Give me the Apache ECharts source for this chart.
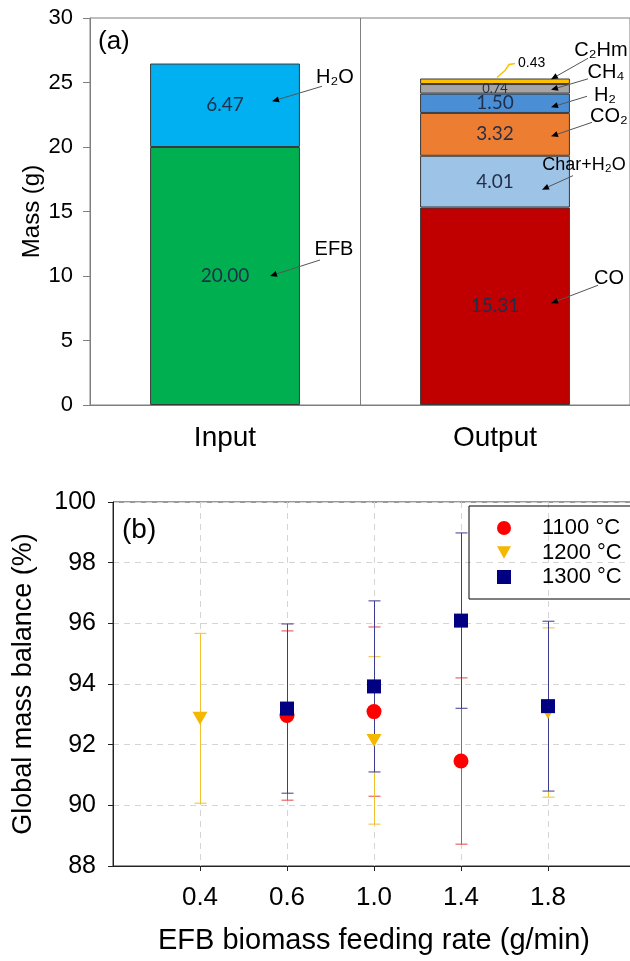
<!DOCTYPE html>
<html>
<head>
<meta charset="utf-8">
<script src="https://cdn.jsdelivr.net/npm/echarts@6/dist/echarts.min.js"></script>
<style>html,body{margin:0;padding:0;background:#fff}#c{width:630px;height:961px}</style>
</head>
<body>
<div id="c"></div>
<script>
// ---------- (a) data ----------
const categoriesA = ['Input', 'Output'];
const inputNames = ['EFB', 'H₂O'];
const inputValues = [20.00, 6.47];
const outputNames = ['CO', 'Char+H₂O', 'CO₂', 'H₂', 'CH₄', 'C₂Hm'];
const outputValues = [15.31, 4.01, 3.32, 1.50, 0.74, 0.43];
const massTicks = [0, 5, 10, 15, 20, 25, 30];

// ---------- (b) data ----------
const feedRates = ['0.4', '0.6', '1.0', '1.4', '1.8'];
const mean1100 = [null, 92.96, 93.09, 91.46, null];
const err1100  = [null, 2.79, 2.79, 2.74, null];
const mean1200 = [92.87, null, 92.14, null, 93.06];
const err1200  = [2.80, null, 2.76, null, 2.79];
const mean1300 = [null, 93.19, 93.92, 96.09, 93.27];
const err1300  = [null, 2.79, 2.82, 2.89, 2.80];
const balanceTicks = [88, 90, 92, 94, 96, 98, 100];

const FONT = '"Liberation Sans", Arial, sans-serif';
const VFONT = 'Lato, "Open Sans", sans-serif';

const colorsIn = { 'EFB': '#00b050', 'H₂O': '#00b0f0' };
const colorsOut = { 'CO': '#c00000', 'Char+H₂O': '#9dc3e6', 'CO₂': '#ed7d31', 'H₂': '#4a8fd6', 'CH₄': '#a5a5a5', 'C₂Hm': '#ffc000' };

const barSeries = [];
inputNames.forEach((n, i) => {
  barSeries.push({
    name: n, type: 'bar', stack: 'a', xAxisIndex: 0, yAxisIndex: 0, barWidth: '55.5%',
    data: [inputValues[i], '-'],
    itemStyle: { color: colorsIn[n], borderColor: '#3a3a3a', borderWidth: 1 },
    label: { show: true, position: 'inside', formatter: p => p.value.toFixed(2), fontFamily: VFONT, fontSize: 19, color: '#1f2f4a' }
  });
});
outputNames.forEach((n, i) => {
  const small = outputValues[i] < 1;
  barSeries.push({
    name: n, type: 'bar', stack: 'a', xAxisIndex: 0, yAxisIndex: 0, barWidth: '55.5%',
    data: ['-', outputValues[i]],
    itemStyle: { color: colorsOut[n], borderColor: '#3a3a3a', borderWidth: 1 },
    label: { show: outputValues[i] > 0.5, position: 'inside', formatter: p => p.value.toFixed(2), fontFamily: VFONT, fontSize: small ? 13 : 19, color: '#1f2f4a' }
  });
});

const triPath = 'path://M0,0L10,0L5,9Z';
function scatterData(means) {
  return feedRates.map((f, i) => means[i] == null ? null : [f, means[i]]).filter(Boolean);
}
function errData(means, errs) {
  return feedRates.map((f, i) => means[i] == null ? null : [f, means[i] - errs[i], means[i] + errs[i]]).filter(Boolean);
}
function errSeries(name, color, means, errs, z) {
  return {
    name: name, type: 'custom', xAxisIndex: 1, yAxisIndex: 1, z: z, silent: true,
    data: errData(means, errs),
    encode: { x: 0, y: [1, 2] },
    renderItem: function (params, api) {
      const x = api.value(0);
      const lo = api.coord([x, api.value(1)]);
      const hi = api.coord([x, api.value(2)]);
      const cx = Math.round(lo[0]) + 0.5;
      const w = 6;
      const st = { stroke: color, lineWidth: 1 };
      return { type: 'group', children: [
        { type: 'line', shape: { x1: cx, y1: lo[1], x2: cx, y2: hi[1] }, style: st },
        { type: 'line', shape: { x1: cx - w, y1: lo[1], x2: cx + w, y2: lo[1] }, style: st },
        { type: 'line', shape: { x1: cx - w, y1: hi[1], x2: cx + w, y2: hi[1] }, style: st }
      ]};
    }
  };
}

const catsB = [''].concat(feedRates).concat(['']);
const notEmpty = (idx, val) => val !== '';

const option = {
  animation: false,
  backgroundColor: '#fff',
  textStyle: { fontFamily: FONT },
  grid: [
    { left: 90, top: 18, right: 0, bottom: 556, show: true, borderColor: '#7f7f7f', borderWidth: 1, outerBoundsMode: 'none', containLabel: false },
    { left: 113, top: 502, width: 522, bottom: 95, show: true, borderColor: '#333', borderWidth: 1, outerBoundsMode: 'none', containLabel: false }
  ],
  xAxis: [
    { gridIndex: 0, type: 'category', data: categoriesA,
      axisLine: { lineStyle: { color: '#7f7f7f' } }, axisTick: { show: false },
      axisLabel: { fontSize: 28, color: '#000', margin: 19, fontFamily: FONT },
      splitLine: { show: true, lineStyle: { color: '#7f7f7f', width: 1 } } },
    { gridIndex: 1, type: 'category', data: catsB, boundaryGap: false,
      name: 'EFB biomass feeding rate (g/min)', nameLocation: 'middle', nameGap: 60, nameMoveOverlap: false,
      nameTextStyle: { fontSize: 29, color: '#000', fontFamily: FONT },
      axisLine: { lineStyle: { color: '#222' } },
      axisTick: { show: true, interval: notEmpty, length: 5, lineStyle: { color: '#222' } },
      axisLabel: { fontSize: 26, color: '#000', margin: 19, interval: 0, fontFamily: FONT },
      splitLine: { show: true, interval: notEmpty, lineStyle: { color: '#d4d4d4', type: [6, 5], width: 1 } } }
  ],
  yAxis: [
    { gridIndex: 0, type: 'value', min: massTicks[0], max: massTicks[massTicks.length - 1], interval: 5,
      name: 'Mass (g)', nameLocation: 'middle', nameGap: 46, nameRotate: 90, nameMoveOverlap: false,
      nameTextStyle: { fontSize: 24, color: '#000', fontFamily: FONT },
      axisLine: { show: true, lineStyle: { color: '#7f7f7f' } },
      axisTick: { show: true, length: 7, lineStyle: { color: '#7f7f7f' } },
      axisLabel: { fontSize: 22, color: '#000', margin: 17, fontFamily: FONT },
      splitLine: { show: false } },
    { gridIndex: 1, type: 'value', min: balanceTicks[0], max: balanceTicks[balanceTicks.length - 1], interval: 2,
      name: 'Global mass balance (%)', nameLocation: 'middle', nameGap: 76, nameRotate: 90, nameMoveOverlap: false,
      nameTextStyle: { fontSize: 27, color: '#000', fontFamily: FONT },
      axisLine: { show: true, lineStyle: { color: '#222' } },
      axisTick: { show: true, length: 5, lineStyle: { color: '#222' } },
      axisLabel: { fontSize: 25, color: '#000', margin: 17, fontFamily: FONT },
      splitLine: { show: true, lineStyle: { color: '#d4d4d4', type: [6, 5], width: 1 } } }
  ],
  legend: {
    orient: 'vertical', left: 469, top: 506, selectedMode: false,
    data: [{ name: '1100 °C', icon: 'circle' }, { name: '1200 °C', icon: triPath }, { name: '1300 °C', icon: 'rect' }],
    itemWidth: 14, itemHeight: 14, itemGap: 2.5,
    borderColor: '#000', borderWidth: 1, borderRadius: 0, padding: [11, 10, 11, 28],
    textStyle: { fontSize: 22, lineHeight: 22, color: '#000', padding: [0, 0, 0, 26], fontFamily: FONT }
  },
  series: barSeries.concat([
    errSeries('e1100', '#e04848', mean1100, err1100, 2),
    errSeries('e1200', '#f0c030', mean1200, err1200, 3),
    errSeries('e1300', '#3b3b8f', mean1300, err1300, 4),
    { name: '1100 °C', type: 'scatter', xAxisIndex: 1, yAxisIndex: 1, z: 5, symbol: 'circle', symbolSize: 15,
      itemStyle: { color: '#ff0000', opacity: 1 }, data: scatterData(mean1100) },
    { name: '1200 °C', type: 'scatter', xAxisIndex: 1, yAxisIndex: 1, z: 6, symbol: triPath, symbolSize: [15, 13],
      itemStyle: { color: '#f5b800', opacity: 1 }, data: scatterData(mean1200) },
    { name: '1300 °C', type: 'scatter', xAxisIndex: 1, yAxisIndex: 1, z: 7, symbol: 'rect', symbolSize: 14,
      itemStyle: { color: '#000080', opacity: 1 }, data: scatterData(mean1300) }
  ])
};

const chart = echarts.init(document.getElementById('c'), null, { renderer: 'canvas' });
chart.setOption(option);

// ---------- annotations for (a), placed through the axes ----------
function px(cat, val) { return chart.convertToPixel({ xAxisIndex: 0, yAxisIndex: 0 }, [cat, val]); }
const graphics = [];
function arrow(tip, end, color) {
  const ang = Math.atan2(tip[1] - end[1], tip[0] - end[0]);
  const L = 7, W = 3;
  const bx = tip[0] - L * Math.cos(ang), by = tip[1] - L * Math.sin(ang);
  graphics.push({ type: 'line', z: 50, shape: { x1: end[0], y1: end[1], x2: bx, y2: by }, style: { stroke: color, lineWidth: 1 } });
  graphics.push({ type: 'polygon', z: 50, shape: { points: [tip,
    [bx + W * Math.sin(ang), by - W * Math.cos(ang)], [bx - W * Math.sin(ang), by + W * Math.cos(ang)]] }, style: { fill: '#000' } });
}
function annotate(cat, base, value, text, o) {
  const c = px(cat, base + value / 2);
  const tip = [c[0] + o.tx, c[1] + (o.ty || 0)];
  arrow(tip, [tip[0] + o.lx, tip[1] + o.ly], '#555');
  graphics.push({ type: 'text', z: 51, style: { text: text, x: tip[0] + o.sx, y: tip[1] + o.sy, fontSize: o.fs || 20, fontFamily: FONT, fill: '#000', align: 'center', verticalAlign: 'middle' } });
}
const layoutIn = [
  { tx: 45, ty: 0, lx: 50, ly: -16, sx: 64, sy: -27 },
  { tx: 47, ty: -4, lx: 50, ly: -15, sx: 63, sy: -24 }
];
const layoutOut = [
  { tx: 56, ty: -3, lx: 47, ly: -18, sx: 58, sy: -25 },
  { tx: 47, ty: 8, lx: 31, ly: -14, sx: 42, sy: -25, fs: 18 },
  { tx: 56, ty: 2, lx: 41, ly: -14, sx: 58, sy: -20 },
  { tx: 56, ty: 4, lx: 36, ly: -11, sx: 54, sy: -12 },
  { tx: 56, ty: 1, lx: 37, ly: -11, sx: 55, sy: -17 },
  { tx: 56, ty: -2, lx: 37, ly: -21, sx: 50, sy: -29 }
];
let base = 0;
inputNames.forEach((n, i) => { annotate(0, base, inputValues[i], n, layoutIn[i]); base += inputValues[i]; });
base = 0;
outputNames.forEach((n, i) => { annotate(1, base, outputValues[i], n, layoutOut[i]); base += outputValues[i]; });
// small C2Hm value with yellow leader
const topOut = px(1, base);
graphics.push({ type: 'polyline', z: 50, shape: { points: [[topOut[0] + 2, topOut[1] - 1], [topOut[0] + 10, topOut[1] - 8], [topOut[0] + 14, topOut[1] - 14], [topOut[0] + 20, topOut[1] - 15]] }, style: { stroke: '#ffc000', lineWidth: 1.5, fill: null } });
graphics.push({ type: 'text', z: 51, style: { text: outputValues[outputValues.length - 1].toFixed(2), x: topOut[0] + 23, y: topOut[1] - 15, fontSize: 14, fontFamily: FONT, fill: '#000', verticalAlign: 'middle' } });
// panel tags
graphics.push({ type: 'text', z: 51, style: { text: '(a)', x: 98, y: 42, fontSize: 26, fontFamily: FONT, fill: '#000', verticalAlign: 'middle' } });
graphics.push({ type: 'text', z: 51, style: { text: '(b)', x: 122, y: 530, fontSize: 28, fontFamily: FONT, fill: '#000', verticalAlign: 'middle' } });
chart.setOption({ graphic: graphics });
</script>
</body>
</html>
